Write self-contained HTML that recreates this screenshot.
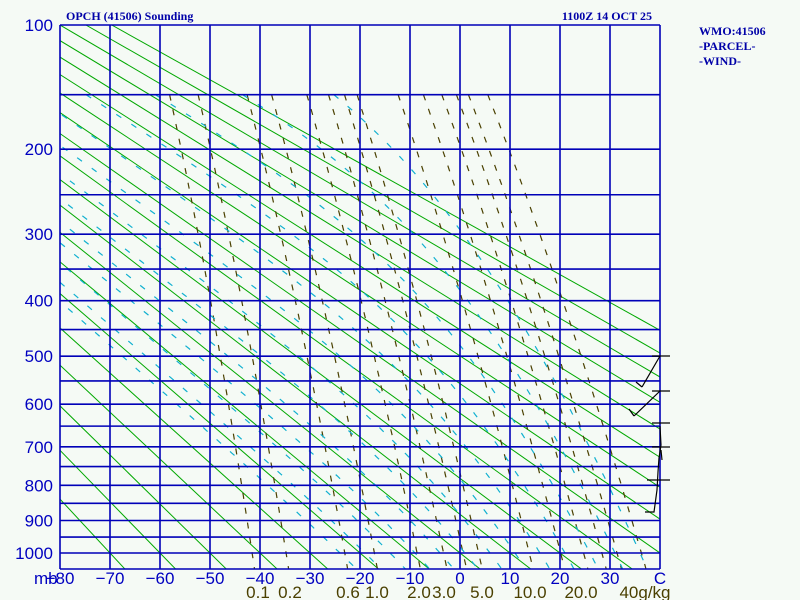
<!DOCTYPE html>
<html><head><meta charset="utf-8"><style>
html,body{margin:0;padding:0;background:#f5faf5;}
svg{display:block;}
.t{font-family:"Liberation Serif",serif;font-weight:bold;font-size:12px;fill:#0000a8;}
.ax{font-family:"Liberation Sans",sans-serif;font-size:17px;fill:#0000c0;}
.mr{font-family:"Liberation Sans",sans-serif;font-size:17px;fill:#4a4000;}
</style></head><body>
<svg id="s" width="800" height="600" xmlns="http://www.w3.org/2000/svg">
<rect width="800" height="600" fill="#f5faf5"/>
<defs>
<clipPath id="box"><rect x="60" y="25" width="600" height="544"/></clipPath>
<clipPath id="box2"><rect x="60" y="94" width="600" height="475"/></clipPath>
</defs>
<g id="green" clip-path="url(#box)" stroke="#00a800" stroke-width="1" fill="none"></g>
<g id="olive" clip-path="url(#box2)" stroke="#4a4000" stroke-width="1.2" fill="none" stroke-dasharray="6 9"></g>
<g id="cyan" clip-path="url(#box2)" stroke="#10b0d0" stroke-width="1.2" fill="none" stroke-dasharray="6 12"></g>
<g id="grid" stroke="#0000b8" stroke-width="1.6" fill="none"></g>
<g id="labels"></g>
<g stroke="#000" stroke-width="1.2" fill="none">
<line x1="652" y1="356" x2="670" y2="356"/>
<line x1="660" y1="356" x2="642" y2="387"/>
<line x1="642" y1="387" x2="636" y2="382"/>
<line x1="652" y1="391" x2="670" y2="391"/>
<line x1="660" y1="391" x2="634" y2="416"/>
<line x1="634" y1="416" x2="629" y2="409"/>
<line x1="652" y1="423" x2="670" y2="423"/>
<line x1="652" y1="447" x2="670" y2="447"/>
<line x1="647" y1="480" x2="670" y2="480"/>
<polyline points="660,426 661,445 659,458 658,472 657,490 654,512 645,512"/>
<line x1="661" y1="450" x2="662" y2="460"/>
</g>
<text class="t" x="66" y="20">OPCH (41506) Sounding</text>
<text class="t" x="652" y="20" text-anchor="end">1100Z 14 OCT 25</text>
<text class="t" x="699" y="35">WMO:41506</text>
<text class="t" x="699" y="50">-PARCEL-</text>
<text class="t" x="699" y="65">-WIND-</text>
</svg>
<script>
(function(){
var NS="http://www.w3.org/2000/svg";
function Y(p){return 25+528*(Math.pow(p,0.286)-Math.pow(100,0.286))/(Math.pow(1000,0.286)-Math.pow(100,0.286));}
function X(T){return 60+5*(T+80);}
function el(par,tag,at,txt){var e=document.createElementNS(NS,tag);for(var k in at)e.setAttribute(k,at[k]);if(txt!==undefined)e.textContent=txt;document.getElementById(par).appendChild(e);return e;}
var ps=[];for(var p=100;p<=1000;p+=50)ps.push(p);
ps.forEach(function(p){var y=Y(p);el("grid","line",{x1:60,x2:660,y1:y,y2:y});});
el("grid","line",{x1:60,x2:660,y1:569,y2:569});
for(var x=60;x<=660;x+=50)el("grid","line",{x1:x,x2:x,y1:25,y2:569});
for(var th=-70;th<=120;th+=10){
 var K=th+273.15,pts=[];
 [100,1060].forEach(function(p){pts.push(X(K*Math.pow(p/1000,0.286)-273.15).toFixed(1)+","+Y(p).toFixed(1));});
 el("green","polyline",{points:pts.join(" ")});
}
function es(T){return 6.112*Math.exp(17.67*T/(T+243.5));}
[0.1,0.2,0.6,1,2,3,4,5,10,15,20,25,30,40].forEach(function(w){
 var pts=[];
 for(var p=150;p<=1060;p+=10){var e=w*p/(622+w);var L=Math.log(e/6.112);var T=243.5*L/(17.67-L);pts.push(X(T).toFixed(1)+","+Y(p).toFixed(1));}
 el("olive","polyline",{points:pts.join(" ")});
});
function dTdp(T,p){var Tk=T+273.15;var e=es(T);var rs=0.622*e/(p-e);
 var Rd=287,cp=1004,Lv=2.5e6;
 return (Rd*Tk+Lv*rs)/(p*(cp+Lv*Lv*rs*0.622/(Rd*Tk*Tk)));}
for(var T0=-24;T0<=36;T0+=5){
 var up=[],T=T0,p=1000;
 while(p>=150){up.push([T,p]);var d=-5;T+=dTdp(T,p)*d;p+=d;}
 var dn=[];T=T0;p=1000;
 while(p<=1060){T+=dTdp(T,p)*5;p+=5;dn.push([T,p]);}
 var all=up.reverse().concat(dn);
 el("cyan","polyline",{points:all.map(function(a){return X(a[0]).toFixed(1)+","+Y(a[1]).toFixed(1);}).join(" ")});
}
[100,200,300,400,500,600,700,800,900,1000].forEach(function(p){el("labels","text",{"class":"ax",x:53,y:Y(p)+6,"text-anchor":"end"},String(p));});
el("labels","text",{"class":"ax",x:34,y:584},"mb");
var tl=["\u221280","\u221270","\u221260","\u221250","\u221240","\u221230","\u221220","\u221210","0","10","20","30","C"];
tl.forEach(function(s,i){el("labels","text",{"class":"ax",x:60+50*i,y:584,"text-anchor":"middle"},s);});
[["0.1",258],["0.2",290],["0.6",348],["1.0",377],["2.0",419],["3.0",444],["5.0",482],["10.0",530],["20.0",581],["40g/kg",645]].forEach(function(a){
 el("labels","text",{"class":"mr",x:a[1],y:598,"text-anchor":"middle"},a[0]);});
})();
</script>
</body></html>
